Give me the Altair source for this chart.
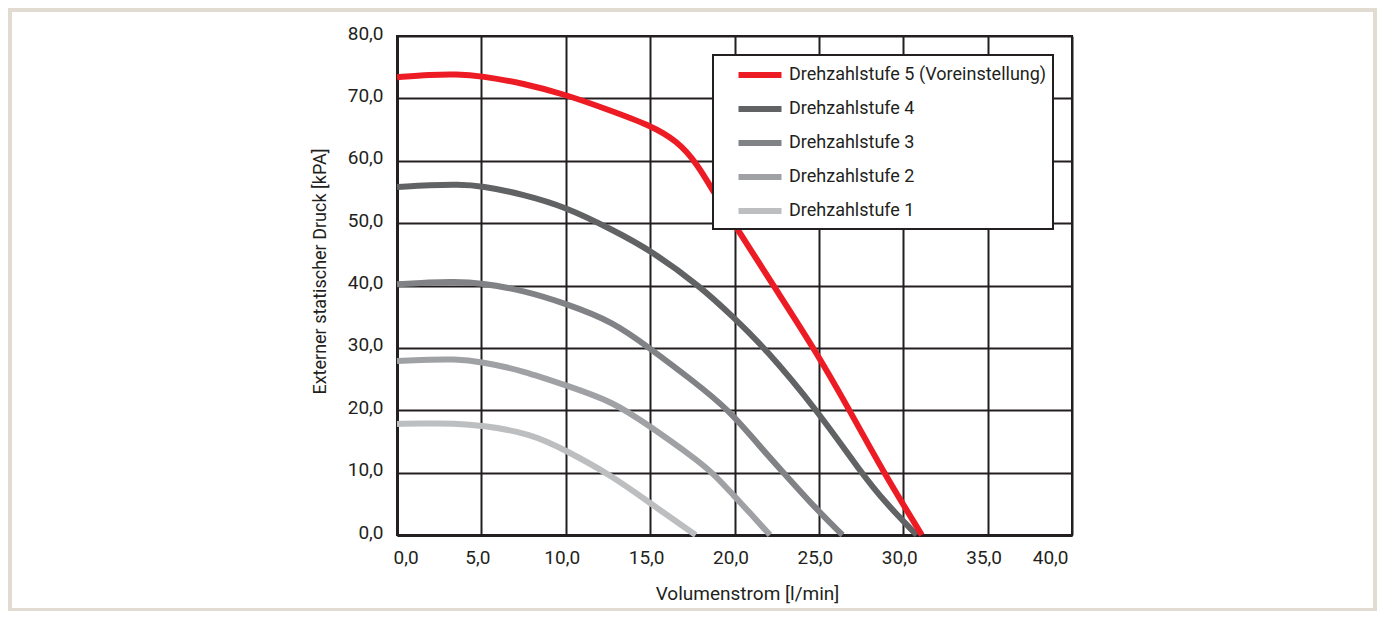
import altair as alt
import pandas as pd

# ---- data ----
names = ["Drehzahlstufe 5 (Voreinstellung)", "Drehzahlstufe 4", "Drehzahlstufe 3",
         "Drehzahlstufe 2", "Drehzahlstufe 1"]
colors = ["#ed1c24", "#616264", "#808285", "#a0a1a4", "#bcbec0"]

s5_x = [0, 2, 3.5, 5, 7.5, 10, 12.5, 15, 16.6, 17.8, 18.8, 20.0, 22.3, 24.7, 26.8, 28.8, 31.1]
s5_y = [73.4, 73.8, 73.9, 73.6, 72.4, 70.6, 68.2, 65.7, 63.2, 59.5, 54.8, 49.8, 40.0, 30.0, 20.1, 10.2, 0]

s4_x = [0, 2, 3.6, 5, 7.5, 10, 12.8, 15, 18, 19.9, 21.8, 24.9, 27.5, 29.0, 30.8]
s4_y = [55.8, 56.1, 56.2, 56.0, 54.6, 52.6, 48.9, 45.7, 39.8, 35.0, 30.0, 20.0, 10.0, 5.0, 0]

s3_x = [0, 2, 3.3, 5, 7.5, 10, 12.8, 15, 17.5, 19.7, 21.5, 22.8, 24.9, 26.4]
s3_y = [40.2, 40.5, 40.6, 40.4, 39.2, 37.1, 34.2, 29.9, 24.8, 20.0, 14.2, 10.3, 4.0, 0]

s2_x = [0, 2, 3.3, 5, 7.5, 10, 12.8, 15, 17.5, 18.7, 20.0, 21.0, 22.1]
s2_y = [27.9, 28.1, 28.2, 27.8, 26.3, 24.0, 21.4, 17.4, 12.6, 10.0, 6.2, 3.3, 0]

s1_x = [0, 2, 3.3, 5, 7.9, 10, 12.8, 15, 17.7]
s1_y = [17.8, 17.9, 17.9, 17.6, 16.3, 13.6, 9.4, 5.1, 0]

x_ticks = [0, 5, 10, 15, 20, 25, 30, 35, 40]
y_ticks = [0, 10, 20, 30, 40, 50, 60, 70, 80]

rows = []
for name, xs, ys in [(names[4], s1_x, s1_y), (names[3], s2_x, s2_y), (names[2], s3_x, s3_y),
                     (names[1], s4_x, s4_y), (names[0], s5_x, s5_y)]:
    for i, (xv, yv) in enumerate(zip(xs, ys)):
        rows.append({"Stufe": name, "x": xv, "y": yv, "i": i})
df = pd.DataFrame(rows)

FONT = "Roboto, Liberation Sans, sans-serif"
INK = "#231f20"
BEIGE = "#e2dbd1"
label_expr = "replace(format(datum.value, '.1f'), '.', ',')"

lines = alt.Chart(df).mark_line(strokeWidth=6, interpolate="basis").encode(
    x=alt.X("x:Q", scale=alt.Scale(domain=[0, 40], nice=False, zero=False),
            axis=alt.Axis(values=x_ticks, labelExpr=label_expr, title="Volumenstrom [l/min]",
                          titleX=350, titleY=64, titleBaseline="alphabetic", titleAlign="center",
                          titleFontSize=19, labelFlush=True, labelOffset=-4, labelPadding=13,
                          ticks=False, grid=True)),
    y=alt.Y("y:Q", scale=alt.Scale(domain=[0, 80], nice=False),
            axis=alt.Axis(values=y_ticks, labelExpr=label_expr,
                          title="Externer statischer Druck [kPA]",
                          titleX=-72, titleY=235, titleBaseline="alphabetic", titleAlign="center",
                          titleAngle=270, titleFontSize=18, labelOffset=-3, labelPadding=14,
                          ticks=False, grid=True)),
    color=alt.Color("Stufe:N", scale=alt.Scale(domain=names, range=colors),
                    legend=alt.Legend(title=None, orient="none", legendX=316, legendY=19,
                                      fillColor="white", strokeColor=INK, padding=6,
                                      symbolType="M-2,0H2", symbolSize=462, symbolStrokeWidth=6,
                                      symbolOffset=27, labelOffset=15, labelFontSize=18,
                                      labelFont=FONT, labelColor=INK, rowPadding=8,
                                      labelLimit=400)),
    order=alt.Order("i:Q"),
)

frame = alt.Chart(alt.Data(values=[{}])).mark_rect(
    filled=False, stroke=BEIGE, strokeWidth=8
).encode(
    x=alt.value(-389), x2=alt.value(980), y=alt.value(-28), y2=alt.value(576)
)

chart = alt.layer(lines, frame).properties(
    width=675, height=499,
    autosize=alt.AutoSizeParams(type="none"),
    padding={"left": 389, "top": 28, "right": 305, "bottom": 76},
    background="white",
).configure_axis(
    labelFont=FONT, titleFont=FONT, labelFontSize=19, labelColor=INK, titleColor=INK,
    titleFontWeight="normal", domainColor=INK, domainWidth=3, gridColor=INK, gridWidth=2,
    gridOpacity=1,
).configure_legend(strokeWidth=2).configure_view(stroke=INK, strokeWidth=2)

chart.save("out.html", embed_options={"renderer": "svg", "actions": False})
